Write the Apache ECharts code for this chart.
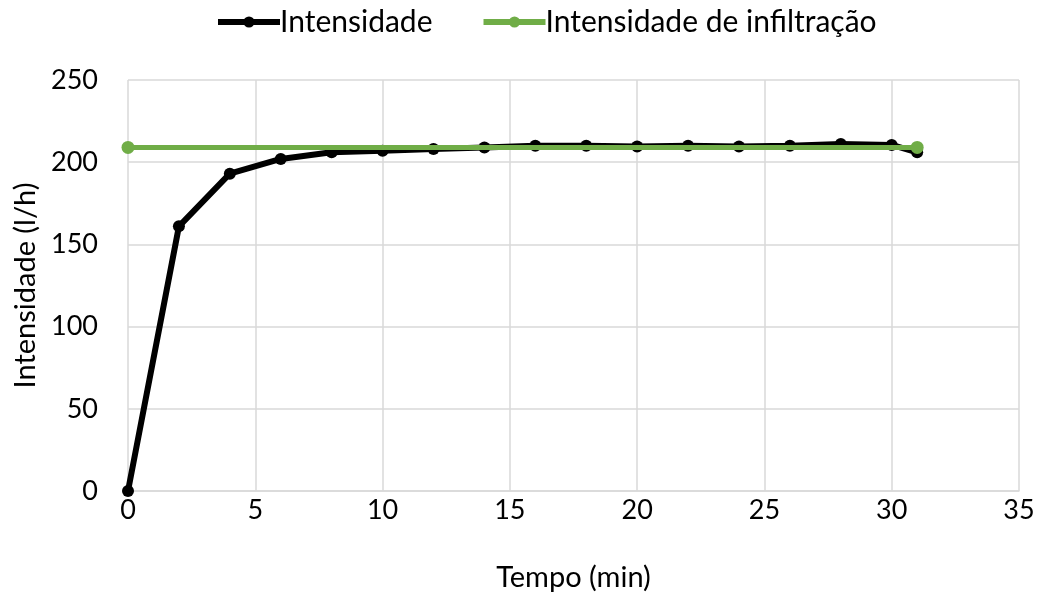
<!DOCTYPE html>
<html><head><meta charset="utf-8">
<script src="https://cdn.jsdelivr.net/npm/echarts@6/dist/echarts.min.js"></script>
<style>html,body{margin:0;padding:0;background:#fff}#c{width:1038px;height:599px}</style>
</head><body><div id="c"></div>
<script>
const tempo = [0, 2, 4, 6, 8, 10, 12, 14, 16, 18, 20, 22, 24, 26, 28, 30, 31];
const intensidade = [0, 161, 193, 202, 206, 207, 208, 209, 210, 210, 209.5, 210, 209.5, 210, 211, 210.5, 206];
const infilTempo = [0, 31];
const infilValores = [209, 209];
const seriesNames = ['Intensidade', 'Intensidade de infiltração'];
const xTitle = 'Tempo (min)';
const yTitle = 'Intensidade (l/h)';

const font = 'Lato, "Open Sans", sans-serif';
const chart = echarts.init(document.getElementById('c'));
chart.setOption({
  animation: false,
  textStyle: { fontFamily: font },
  legend: {
    top: 2, left: 210, itemWidth: 62, itemHeight: 14, itemGap: 48,
    textStyle: { fontSize: 30, color: '#000', fontFamily: font, padding: [0, 0, 0, -5] },
    lineStyle: { width: 6 },
    data: seriesNames
  },
  grid: { left: 128, right: 19, top: 80, bottom: 108 },
  xAxis: {
    type: 'value', min: 0, max: 35, interval: 5,
    name: xTitle, nameLocation: 'middle', nameGap: 72,
    nameTextStyle: { fontSize: 29, color: '#000', fontFamily: font },
    axisLabel: { fontSize: 27, color: '#000', margin: 6, fontFamily: font },
    axisLine: { lineStyle: { color: '#d9d9d9', width: 1.5 } },
    axisTick: { show: false },
    splitLine: { show: true, lineStyle: { color: '#d9d9d9', width: 1.5 } }
  },
  yAxis: {
    type: 'value', min: 0, max: 250, interval: 50,
    name: yTitle, nameLocation: 'middle', nameGap: 83,
    nameTextStyle: { fontSize: 29, color: '#000', fontFamily: font },
    axisLabel: { fontSize: 27, color: '#000', margin: 30, fontFamily: font },
    axisLine: { show: false },
    axisTick: { show: false },
    splitLine: { show: true, lineStyle: { color: '#d9d9d9', width: 1.5 } }
  },
  series: [
    {
      name: seriesNames[0], type: 'line',
      data: tempo.map((t, i) => [t, intensidade[i]]),
      symbol: 'circle', symbolSize: 12,
      lineStyle: { color: '#000', width: 6 },
      itemStyle: { color: '#000' },
      z: 2
    },
    {
      name: seriesNames[1], type: 'line',
      data: infilTempo.map((t, i) => [t, infilValores[i]]),
      symbol: 'circle', symbolSize: 13,
      lineStyle: { color: '#70AD47', width: 5 },
      itemStyle: { color: '#70AD47' },
      z: 3
    }
  ]
});
</script></body></html>
